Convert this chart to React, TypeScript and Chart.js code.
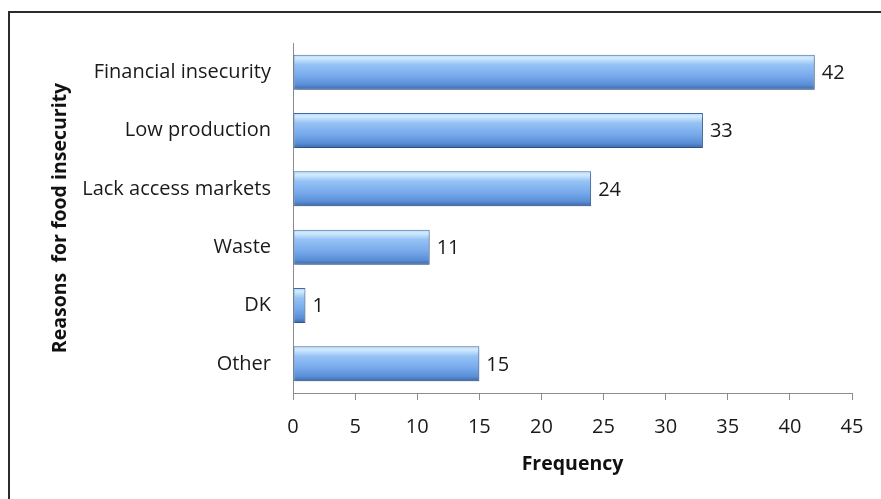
import React, { useEffect, useRef } from "react";
import { Chart, registerables } from "chart.js";

Chart.register(...registerables);

const categories = ["Financial insecurity", "Low production", "Lack access markets", "Waste", "DK", "Other"];
const frequencies = [42, 33, 24, 11, 1, 15];
const xMin = 0;
const xMax = 45;
const xStep = 5;
const xTitle = "Frequency";
const yTitle = "Reasons  for food insecurity";

const FONT = "'Open Sans', Lato, sans-serif";
const BAR_PCT = 0.6;

const barShadow = {
  id: "barShadow",
  beforeDatasetDraw(chart: any) {
    const ctx = chart.ctx;
    ctx.save();
    ctx.shadowColor = "rgba(0,0,0,0.28)";
    ctx.shadowBlur = 3;
    ctx.shadowOffsetX = 1;
    ctx.shadowOffsetY = 2;
  },
  afterDatasetDraw(chart: any) {
    chart.ctx.restore();
  },
};

const valueLabels = {
  id: "valueLabels",
  afterDatasetsDraw(chart: any) {
    const ctx = chart.ctx;
    const meta = chart.getDatasetMeta(0);
    ctx.save();
    ctx.font = `20px ${FONT}`;
    ctx.fillStyle = "#1a1a1a";
    ctx.textAlign = "left";
    ctx.textBaseline = "middle";
    meta.data.forEach((bar: any, i: number) => {
      const v = chart.data.datasets[0].data[i];
      ctx.fillText(String(v), bar.x + 7, bar.y + 1);
    });
    ctx.restore();
  },
};

export default function App() {
  const ref = useRef<HTMLCanvasElement | null>(null);
  useEffect(() => {
    if (!ref.current) return;
    const chart = new Chart(ref.current, {
      type: "bar",
      data: {
        labels: categories,
        datasets: [
          {
            data: frequencies,
            categoryPercentage: 1,
            barPercentage: BAR_PCT,
            borderColor: "#3f6aa6",
            borderWidth: 1,
            borderSkipped: false,
            backgroundColor: (c: any) => {
              const chartRef = c.chart;
              const ys = chartRef.scales && chartRef.scales.y;
              if (!ys || c.dataIndex === undefined) return "#7eb1ef";
              const center = ys.getPixelForValue(c.dataIndex);
              const step = Math.abs(ys.getPixelForValue(1) - ys.getPixelForValue(0));
              if (!isFinite(center) || !isFinite(step) || step <= 0) return "#7eb1ef";
              const half = (step * BAR_PCT) / 2;
              const g = chartRef.ctx.createLinearGradient(0, center - half, 0, center + half);
              g.addColorStop(0, "#b5d7fa");
              g.addColorStop(0.1, "#d2ebfe");
              g.addColorStop(0.28, "#96c3f5");
              g.addColorStop(0.6, "#78aaec");
              g.addColorStop(0.86, "#5a8ed6");
              g.addColorStop(1, "#3b68a8");
              return g;
            },
          },
        ],
      },
      options: {
        indexAxis: "y",
        responsive: false,
        animation: false,
        layout: { padding: { left: 0, right: 29, top: 43, bottom: 0 } },
        plugins: {
          legend: { display: false },
          tooltip: { enabled: false },
        },
        scales: {
          x: {
            min: xMin,
            max: xMax,
            afterFit: (s: any) => {
              s.height = 106;
            },
            grid: {
              drawOnChartArea: false,
              drawTicks: true,
              tickLength: 7,
              color: "#8c8c8c",
            },
            border: { display: true, color: "#8c8c8c", width: 1 },
            ticks: {
              stepSize: xStep,
              color: "#1a1a1a",
              padding: 15,
              font: { family: FONT, size: 20 },
            },
            title: {
              display: true,
              text: xTitle,
              color: "#111",
              font: { family: FONT, size: 19.5, weight: "bold" },
              padding: { top: 0, bottom: 23 },
            },
          },
          y: {
            afterFit: (s: any) => {
              s.width = 293;
            },
            grid: { display: false },
            border: { display: true, color: "#8c8c8c", width: 1 },
            ticks: {
              color: "#1a1a1a",
              padding: 14,
              font: { family: FONT, size: 20 },
            },
            title: {
              display: true,
              text: yTitle,
              color: "#111",
              font: { family: FONT, size: 19.5, weight: "bold" },
              padding: { top: 49, bottom: 0 },
            },
          },
        },
      },
      plugins: [barShadow, valueLabels],
    });
    return () => chart.destroy();
  }, []);

  return (
    <div style={{ position: "absolute", left: 0, top: 0, width: 881, height: 499, background: "#fff", overflow: "hidden" }}>
      <div
        style={{
          position: "absolute",
          left: 8,
          top: 11,
          width: 900,
          height: 520,
          borderLeft: "2px solid #2b2b2b",
          borderTop: "2px solid #2b2b2b",
          boxSizing: "border-box",
        }}
      />
      <canvas ref={ref} width={881} height={499} style={{ position: "absolute", left: 0, top: 0 }} />
    </div>
  );
}
